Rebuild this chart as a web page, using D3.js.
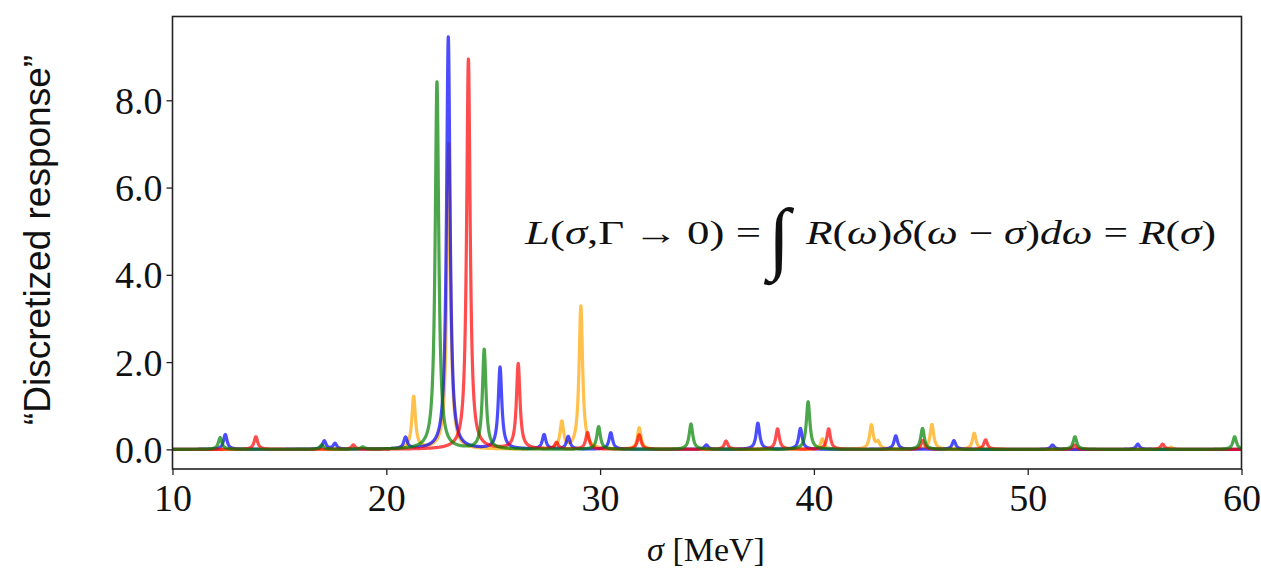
<!DOCTYPE html>
<html>
<head>
<meta charset="utf-8">
<script src="https://cdn.jsdelivr.net/npm/d3@7"></script>
<style>
  html, body { margin: 0; padding: 0; background: #fff; }
  svg { display: block; }
</style>
</head>
<body>
<svg id="chart" width="1261" height="570"></svg>
<script>
// ---- data (peak positions in MeV and peak heights) ----
const bluePos    = [12.47, 17.1, 17.6, 20.9, 22.9, 25.32, 27.38, 28.51, 30.5, 34.97, 37.38, 39.37, 43.83, 46.55, 51.16, 55.15];
const blueHeight = [0.34, 0.19, 0.13, 0.26, 9.45, 1.87, 0.33, 0.29, 0.38, 0.10, 0.60, 0.48, 0.31, 0.20, 0.10, 0.12];

const redPos     = [13.9, 18.46, 23.84, 26.17, 27.96, 29.41, 31.83, 35.89, 38.3, 40.69, 45.1, 48.03, 52.2, 56.31];
const redHeight  = [0.29, 0.10, 8.94, 1.95, 0.15, 0.38, 0.33, 0.19, 0.47, 0.47, 0.20, 0.22, 0.10, 0.12];

const greenPos    = [12.23, 16.98, 18.9, 22.37, 24.58, 29.93, 34.25, 39.73, 45.08, 52.21, 59.68];
const greenHeight = [0.27, 0.10, 0.05, 8.42, 2.28, 0.52, 0.58, 1.09, 0.48, 0.29, 0.29];

const orangePos    = [21.28, 22.92, 28.21, 29.1, 31.83, 40.4, 42.69, 43.0, 45.52, 47.5, 56.7];
const orangeHeight = [1.19, 7.0, 0.61, 3.28, 0.49, 0.24, 0.55, 0.15, 0.57, 0.37, 0.05];

const xTicks = [10, 20, 30, 40, 50, 60];
const yTicks = [0, 2, 4, 6, 8];
const xDomain = [10, 60];
const yDomain = [-0.45, 9.92];
const gammaWidth = 0.2;   // Lorentzian width Γ of each discretized peak

// ---- layout ----
const svg = d3.select("#chart");
const L = 172.5, R = 1241.5, T = 16.5, B = 469;
const x = d3.scaleLinear().domain(xDomain).range([L, R]);
const y = d3.scaleLinear().domain(yDomain).range([B, T]);

function lorentzSeries(pos, h) {
  const pts = [];
  const g2 = (gammaWidth / 2) * (gammaWidth / 2);
  for (let i = 0; i <= 10000; i++) {
    const s = xDomain[0] + (xDomain[1] - xDomain[0]) * i / 10000;
    let v = 0;
    for (let k = 0; k < pos.length; k++) {
      const d = s - pos[k];
      v += h[k] * g2 / (d * d + g2);
    }
    pts.push([s, v]);
  }
  return pts;
}

const series = [
  { pos: orangePos, h: orangeHeight, color: "#ffa500" },
  { pos: bluePos,   h: blueHeight,   color: "#0000ff" },
  { pos: redPos,    h: redHeight,    color: "#ff0000" },
  { pos: greenPos,  h: greenHeight,  color: "#008000" }
];

svg.append("clipPath").attr("id", "clip")
  .append("rect").attr("x", L).attr("y", T).attr("width", R - L).attr("height", B - T);

const line = d3.line().x(d => x(d[0])).y(d => y(d[1]));
const g = svg.append("g").attr("clip-path", "url(#clip)");
series.forEach(s => {
  g.append("path")
    .datum(lorentzSeries(s.pos, s.h))
    .attr("d", line)
    .attr("fill", "none")
    .attr("stroke", s.color)
    .attr("stroke-opacity", 0.7)
    .attr("stroke-width", 3.2)
    .attr("stroke-linejoin", "round");
});

// ---- axes ----
const tickFont = "'Liberation Serif', 'Times New Roman', serif";
const xAxis = d3.axisBottom(x).tickValues(xTicks).tickFormat(d3.format("d")).tickSize(6).tickPadding(6);
const yAxis = d3.axisLeft(y).tickValues(yTicks).tickFormat(d3.format(".1f")).tickSize(6).tickPadding(4);

const gx = svg.append("g").attr("transform", `translate(0,${B})`).call(xAxis);
const gy = svg.append("g").attr("transform", `translate(${L},0)`).call(yAxis);
[gx, gy].forEach(a => {
  a.select(".domain").remove();
  a.selectAll(".tick line").attr("stroke", "#222").attr("stroke-width", 1.3);
  a.selectAll(".tick text").attr("fill", "#111").style("font-family", tickFont).style("font-size", "38px");
});
gy.selectAll(".tick text").attr("dy", "0.34em");
gx.selectAll(".tick text").attr("dy", "0.78em");

// frame
svg.append("rect").attr("x", L).attr("y", T).attr("width", R - L).attr("height", B - T)
  .attr("fill", "none").attr("stroke", "#222").attr("stroke-width", 1.6);

// axis labels
svg.append("text")
  .attr("transform", "translate(50,240) rotate(-90)")
  .attr("text-anchor", "middle")
  .style("font-family", "'Liberation Sans', Arial, sans-serif")
  .style("font-size", "37px")
  .attr("fill", "#111")
  .text("\u201CDiscretized response\u201D");

const xl = svg.append("text")
  .attr("x", 706).attr("y", 561)
  .attr("text-anchor", "middle")
  .style("font-family", tickFont)
  .style("font-size", "34px")
  .attr("fill", "#111");
xl.append("tspan").style("font-style", "italic").text("σ");
xl.append("tspan").text(" [MeV]");

// formula
const fFont = tickFont;
const f1 = svg.append("text").attr("x", 525).attr("y", 244)
  .attr("textLength", 236).attr("lengthAdjust", "spacingAndGlyphs")
  .style("font-family", fFont).style("font-size", "33px").attr("fill", "#111");
f1.append("tspan").style("font-style", "italic").text("L");
f1.append("tspan").text("(");
f1.append("tspan").style("font-style", "italic").text("σ");
f1.append("tspan").text(",Γ\u2009\u2192\u20090) =");

svg.append("text").attr("x", 768).attr("y", 264)
  .style("font-family", fFont).style("font-size", "80px").style("font-style", "italic")
  .attr("fill", "#111").text("∫");

const f2 = svg.append("text").attr("x", 806).attr("y", 244)
  .attr("textLength", 410).attr("lengthAdjust", "spacingAndGlyphs")
  .style("font-family", fFont).style("font-size", "33px").attr("fill", "#111");
f2.append("tspan").style("font-style", "italic").text("R");
f2.append("tspan").text("(");
f2.append("tspan").style("font-style", "italic").text("ω");
f2.append("tspan").text(")");
f2.append("tspan").style("font-style", "italic").text("δ");
f2.append("tspan").text("(");
f2.append("tspan").style("font-style", "italic").text("ω");
f2.append("tspan").text(" − ");
f2.append("tspan").style("font-style", "italic").text("σ");
f2.append("tspan").text(")");
f2.append("tspan").style("font-style", "italic").text("dω");
f2.append("tspan").text(" = ");
f2.append("tspan").style("font-style", "italic").text("R");
f2.append("tspan").text("(");
f2.append("tspan").style("font-style", "italic").text("σ");
f2.append("tspan").text(")");
</script>
</body>
</html>
